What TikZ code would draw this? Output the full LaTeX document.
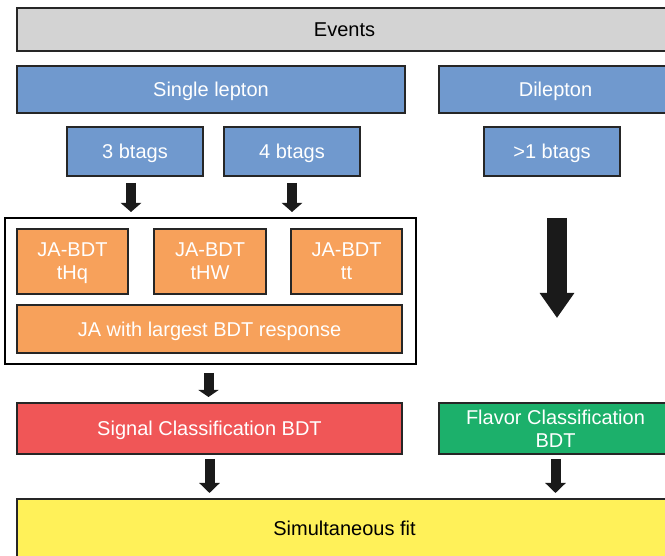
\documentclass[tikz,border=0pt]{standalone}
\usepackage{fontspec}
\setmainfont{Liberation Sans}
\usetikzlibrary{positioning,arrows.meta}
\definecolor{evgray}{HTML}{D3D3D3}
\definecolor{lepblue}{HTML}{7099CE}
\definecolor{jaorange}{HTML}{F7A15B}
\definecolor{sigred}{HTML}{F05657}
\definecolor{flavgreen}{HTML}{1CB06B}
\definecolor{fityellow}{HTML}{FFF159}
\definecolor{arrowblack}{HTML}{1A1A1A}

\begin{document}
\begin{tikzpicture}[x=1pt,y=-1pt,
    box/.style={draw=black!85,line width=1.3pt,inner sep=0pt,outer sep=0pt,text depth=0pt,
      anchor=north west,align=center,font=\fontsize{20}{23}\selectfont},
    wbox/.style={box,text=white},
    flow/.style={line width=10pt,draw=arrowblack,-{Triangle[width=20pt,length=9pt]}},
    bigflow/.style={line width=20pt,draw=arrowblack,-{Triangle[width=33pt,length=25pt]}}]
    \useasboundingbox (0,0) rectangle (665,556);
    \clip (0,0) rectangle (665,556);
    % selection
    \node[box,fill=evgray,minimum width=655pt,minimum height=43pt] (events) at (17,8) {Events};
    \node[wbox,fill=lepblue,minimum width=388pt,minimum height=47pt] (single) at (17,66) {Single lepton};
    \node[wbox,fill=lepblue,minimum width=233pt,minimum height=47pt] (dilep) at (439,66) {Dilepton};
    \node[wbox,fill=lepblue,minimum width=136pt,minimum height=49pt] (three) at (67,127) {3 btags};
    \node[wbox,fill=lepblue,minimum width=136pt,minimum height=49pt] (four) at (224,127) {4 btags};
    \node[wbox,fill=lepblue,minimum width=136pt,minimum height=49pt] (more) at (484,127) {>1 btags};
    % jet assignment
    \node[box,draw=black,fill=white,minimum width=411pt,minimum height=146pt] (outer) at (5,218) {};
    \node[wbox,fill=jaorange,minimum width=111pt,minimum height=65pt] (jahq) at (17,229) {JA-BDT\\tHq};
    \node[wbox,fill=jaorange,minimum width=112pt,minimum height=65pt] (jahw) at (154,229) {JA-BDT\\tHW};
    \node[wbox,fill=jaorange,minimum width=111pt,minimum height=65pt] (jatt) at (291,229) {JA-BDT\\tt};
    \node[wbox,fill=jaorange,minimum width=385pt,minimum height=48pt] (jamax) at (17,305) {JA with largest BDT response};
    % classification and fit
    \node[wbox,fill=sigred,minimum width=385pt,minimum height=51pt] (sig) at (17,403) {Signal Classification BDT};
    \node[wbox,fill=flavgreen,minimum width=233pt,minimum height=51pt] (flav) at (439,403) {Flavor Classification\\BDT};
    \node[box,fill=fityellow,minimum width=655pt,minimum height=58pt] (fit) at (17,499) {Simultaneous fit};
    % arrows
    \draw[flow,shorten <=7pt,shorten >=6pt] ([xshift=-4pt]three.south) -- ([xshift=-4pt]three.south |- outer.north);
    \draw[flow,shorten <=7pt,shorten >=6pt] (four.south) -- (four.south |- outer.north);
    \draw[bigflow] ([xshift=5pt]more.south |- outer.north) -- ++(0,100);
    \draw[flow,-{Triangle[width=20pt,length=7pt]},shorten <=9pt,shorten >=6pt] ([xshift=-2pt]outer.south) -- ([xshift=-2pt]outer.south |- sig.north);
    \draw[flow,-{Triangle[width=20pt,length=10pt]},shorten <=5pt,shorten >=6pt] (sig.south) -- (sig.south |- fit.north);
    \draw[flow,-{Triangle[width=20pt,length=10pt]},shorten <=5pt,shorten >=6pt] (flav.south) -- (flav.south |- fit.north);
\end{tikzpicture}
\end{document}
